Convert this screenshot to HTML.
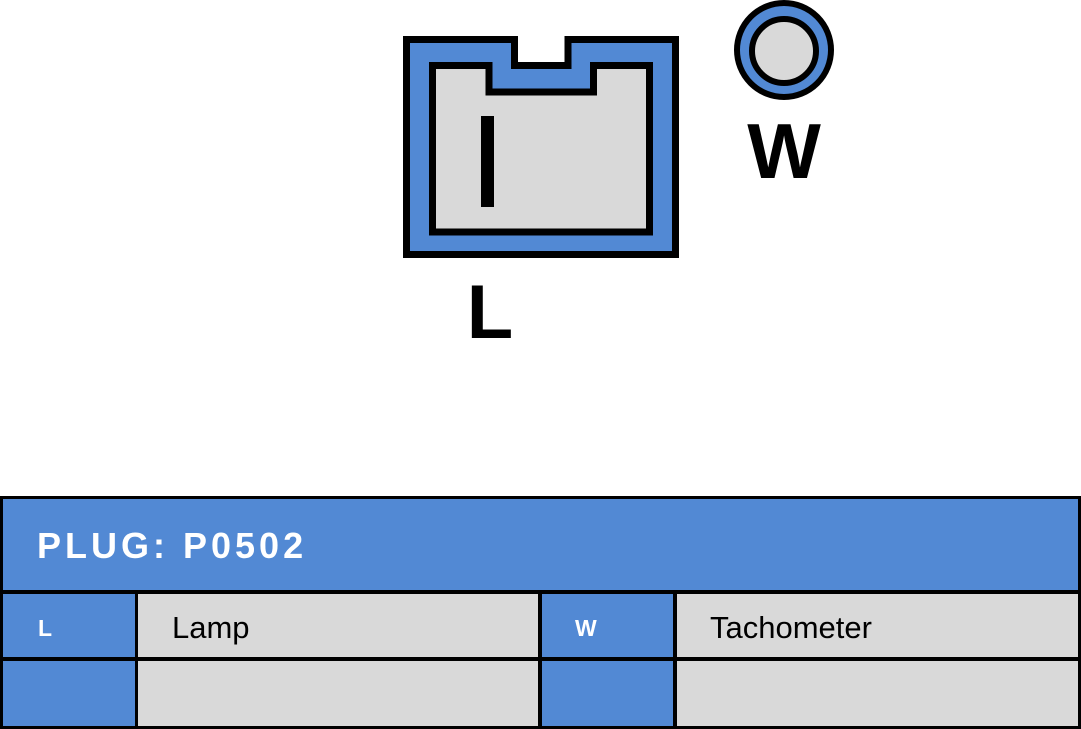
<!DOCTYPE html>
<html><head><meta charset="utf-8"><style>
html,body{margin:0;padding:0;background:#fff;}
svg{display:block;}
text{font-family:"Liberation Sans",sans-serif;}
</style></head><body>
<svg width="1081" height="729" viewBox="0 0 1081 729" xmlns="http://www.w3.org/2000/svg">
<polygon points="406.5,39.5 514.5,39.5 514.5,65.5 568,65.5 568,39.5 675.5,39.5 675.5,254.5 406.5,254.5" fill="#5289d4" stroke="#000" stroke-width="7"/>
<polygon points="432.5,65.5 489,65.5 489,92 593.5,92 593.5,65.5 649.5,65.5 649.5,232 432.5,232" fill="#d9d9d9" stroke="#000" stroke-width="7"/>
<rect x="481" y="116" width="13" height="91" fill="#000"/>
<circle cx="784" cy="50" r="47" fill="#5289d4" stroke="#000" stroke-width="6"/>
<circle cx="784" cy="51" r="32" fill="#d9d9d9" stroke="#000" stroke-width="6"/>
<text x="784" y="178" font-size="78" font-weight="bold" text-anchor="middle" fill="#000">W</text>
<text x="490" y="338" font-size="76" font-weight="bold" text-anchor="middle" fill="#000">L</text>

<rect x="0" y="496" width="1081" height="233" fill="#000"/>
<rect x="3" y="499" width="1075" height="91" fill="#5289d4"/>
<rect x="3" y="594" width="132" height="63" fill="#5289d4"/>
<rect x="138" y="594" width="400" height="63" fill="#d9d9d9"/>
<rect x="542" y="594" width="131" height="63" fill="#5289d4"/>
<rect x="677" y="594" width="401" height="63" fill="#d9d9d9"/>
<rect x="3" y="661" width="132" height="65" fill="#5289d4"/>
<rect x="138" y="661" width="400" height="65" fill="#d9d9d9"/>
<rect x="542" y="661" width="131" height="65" fill="#5289d4"/>
<rect x="677" y="661" width="401" height="65" fill="#d9d9d9"/>
<text x="37" y="558" font-size="36" font-weight="bold" fill="#fff" letter-spacing="4">PLUG: P0502</text>
<text x="38" y="636" font-size="23" font-weight="bold" fill="#fff">L</text>
<text x="172" y="638" font-size="31" fill="#000">Lamp</text>
<text x="575" y="636" font-size="23" font-weight="bold" fill="#fff">W</text>
<text x="710" y="638" font-size="31" fill="#000">Tachometer</text>
</svg>
</body></html>
